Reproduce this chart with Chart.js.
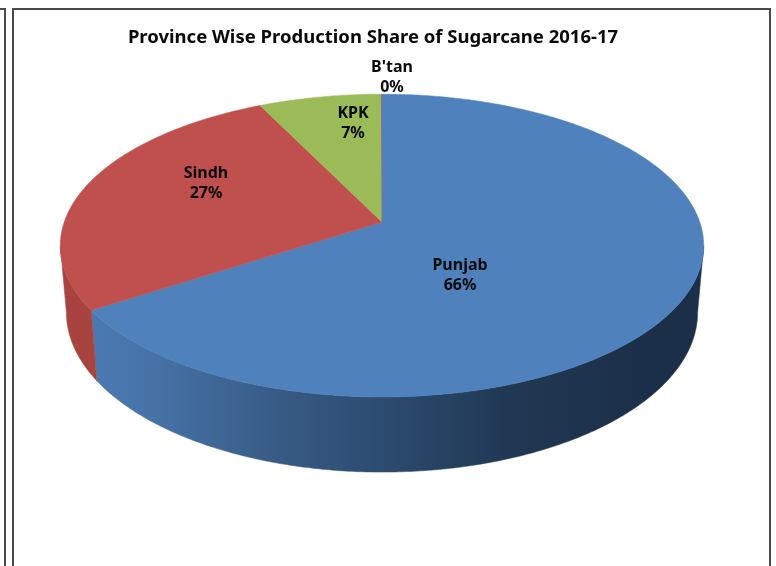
<!DOCTYPE html>
<html lang="en">
<head>
  <meta charset="UTF-8" />
  <title>Province Wise Production Share of Sugarcane 2016-17</title>
  <script src="https://cdn.jsdelivr.net/npm/chart.js"></script>
  <style>
    body { margin: 0; background: #fff; }
    #wrap { position: relative; width: 776px; height: 566px; overflow: hidden; }
    #chart { position: absolute; left: 0; top: 0; }
    .frame { position: absolute; border: 2px solid #4a4a4a; box-sizing: border-box; }
    #frameLeft { left: -10px; top: 8px; width: 16px; height: 600px; }
    #frameMain { left: 12px; top: 8px; width: 759px; height: 600px; }
  </style>
</head>
<body>
  <div id="wrap">
    <div class="frame" id="frameLeft"></div>
    <div class="frame" id="frameMain"></div>
    <canvas id="chart" width="776" height="566"></canvas>
  </div>

  <script>
    const chartTitle = 'Province Wise Production Share of Sugarcane 2016-17';
    const provinces = ['Punjab', 'Sindh', 'KPK', "B'tan"];
    const shares = [65.8, 27, 7.16, 0.04];
    const topColors = ['#4f81bd', '#c0504d', '#9bbb59', '#8064a2'];
    const sideColors = [
      [[0, '#4b79b2'], [0.12, '#4672a6'], [0.35, '#375a84'], [0.55, '#2b4a6e'], [0.75, '#213955'], [1, '#1c2f48']],
      [[0, '#a8443f'], [1, '#a8443f']],
      [[0, '#7d9a45'], [1, '#7d9a45']],
      [[0, '#66508a'], [1, '#66508a']]
    ];
    // where the text sits, measured from the pie apex
    const labelOffsets = [[78, 53], [-176, -39], [-29, -99], [10, -144.5]];

    // perspective of the pie, in units of the library's radius
    const tilt = 0.155;
    const topFace = { sx: 1.9875, sy: 0.924, dy: 0 };
    const bottomFace = { sx: 1.95, sy: 0.975, dy: 65.5 };
    // the rim is widest here, the wall starts from that point
    const wallStart = Math.asin(tilt);

    function project(arc, angle, face) {
      const w = 1 - tilt * Math.sin(angle);
      return {
        x: arc.x + 9 + arc.outerRadius * face.sx * Math.cos(angle) / w,
        y: arc.y + face.dy + arc.outerRadius * face.sy * Math.sin(angle) / w
      };
    }

    function traceEdge(ctx, arc, from, to, face) {
      const steps = Math.max(2, Math.ceil(Math.abs(to - from) / 0.01));
      for (let i = 0; i <= steps; i++) {
        const p = project(arc, from + (to - from) * i / steps, face);
        ctx.lineTo(p.x, p.y);
      }
    }

    const pie3d = {
      id: 'pie3d',
      beforeDatasetsDraw(chart) {
        const ctx = chart.ctx;
        const arcs = chart.getDatasetMeta(0).data;
        ctx.save();

        // side wall first, top face goes over it
        arcs.forEach((arc, i) => {
          const from = Math.max(arc.startAngle, wallStart);
          const to = Math.min(arc.endAngle, Math.PI - wallStart);
          if (to <= from) return;
          const grad = ctx.createLinearGradient(90, 0, 640, 0);
          sideColors[i].forEach(s => grad.addColorStop(s[0], s[1]));
          ctx.beginPath();
          traceEdge(ctx, arc, from, to, topFace);
          traceEdge(ctx, arc, to, from, bottomFace);
          ctx.closePath();
          ctx.fillStyle = grad;
          ctx.strokeStyle = grad;
          ctx.lineWidth = 0.5;
          ctx.fill();
          ctx.stroke();
        });

        arcs.forEach((arc, i) => {
          ctx.beginPath();
          ctx.moveTo(arc.x + 9, arc.y);
          traceEdge(ctx, arc, arc.startAngle, arc.endAngle, topFace);
          ctx.closePath();
          ctx.fillStyle = topColors[i];
          ctx.strokeStyle = topColors[i];
          ctx.lineWidth = 0.5;
          ctx.fill();
          ctx.stroke();
        });

        ctx.fillStyle = '#0a0a0a';
        ctx.font = 'bold 16px "Noto Sans"';
        ctx.textAlign = 'center';
        ctx.textBaseline = 'middle';
        arcs.forEach((arc, i) => {
          const lx = arc.x + 9 + labelOffsets[i][0];
          const ly = arc.y + labelOffsets[i][1];
          ctx.fillText(provinces[i], lx, ly - 10);
          ctx.fillText(Math.round(shares[i]) + '%', lx, ly + 10);
        });

        ctx.restore();
        return false;
      }
    };

    new Chart(document.getElementById('chart').getContext('2d'), {
      type: 'pie',
      data: {
        labels: provinces,
        datasets: [{ data: shares, backgroundColor: topColors, borderWidth: 0 }]
      },
      options: {
        responsive: false,
        animation: false,
        layout: { padding: { left: 0, right: 30, top: 0, bottom: 184 } },
        plugins: {
          legend: { display: false },
          tooltip: { enabled: false },
          title: {
            display: true,
            text: chartTitle,
            color: '#0a0a0a',
            font: { family: '"Noto Sans"', size: 18.5, weight: 'bold' },
            padding: { top: 27, bottom: 13 }
          }
        }
      },
      plugins: [pie3d]
    });
  </script>
</body>
</html>
